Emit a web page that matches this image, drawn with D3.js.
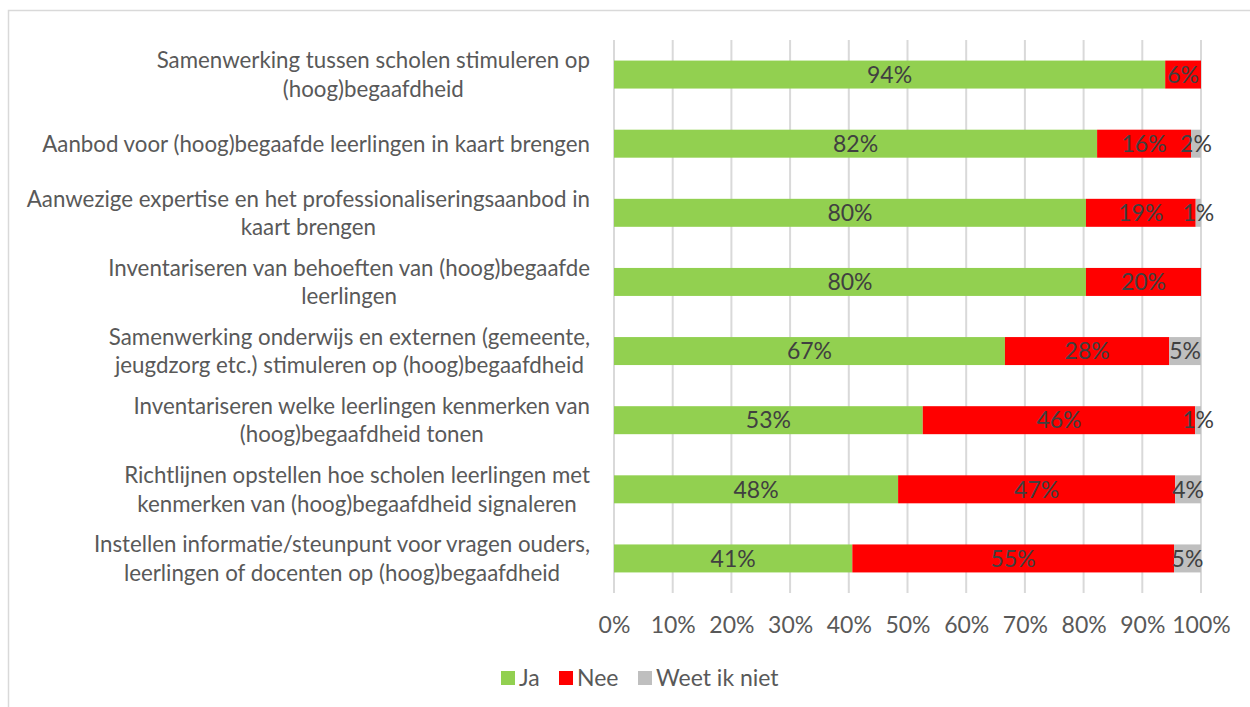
<!DOCTYPE html>
<html>
<head>
<meta charset="utf-8">
<script src="https://cdn.jsdelivr.net/npm/d3@7"></script>
<style>
  body { margin: 0; background: #fff; }
  text { font-family: Lato, Carlito, Calibri, sans-serif; }
</style>
</head>
<body>
<div id="chart"></div>
<script>
// categories (line breaks as in the picture)
var categories = [
  ['Samenwerking tussen scholen stimuleren op', '(hoog)begaafdheid'],
  ['Aanbod voor (hoog)begaafde leerlingen in kaart brengen'],
  ['Aanwezige expertise en het professionaliseringsaanbod in', 'kaart brengen'],
  ['Inventariseren van behoeften van (hoog)begaafde', 'leerlingen'],
  ['Samenwerking onderwijs en externen (gemeente,', 'jeugdzorg etc.) stimuleren op (hoog)begaafdheid'],
  ['Inventariseren welke leerlingen kenmerken van', '(hoog)begaafdheid tonen'],
  ['Richtlijnen opstellen hoe scholen leerlingen met', 'kenmerken van (hoog)begaafdheid signaleren'],
  ['Instellen informatie/steunpunt voor vragen ouders,', 'leerlingen of docenten op (hoog)begaafdheid']
];

// series values (percent)
var ja         = [93.9, 82.3, 80.4, 80.4, 66.6, 52.6, 48.4, 40.6];
var nee        = [ 6.1, 16.0, 18.7, 19.6, 28.0, 46.4, 47.2, 54.8];
var weetIkNiet = [ 0.0,  1.7,  0.9,  0.0,  5.4,  1.0,  4.4,  4.6];

var seriesNames = ['Ja', 'Nee', 'Weet ik niet'];
var seriesColors = ['#92d050', '#ff0000', '#bfbfbf'];
var ticks = [0, 10, 20, 30, 40, 50, 60, 70, 80, 90, 100];

var width = 1250, height = 707;
var plot = {left: 614, right: 1201, top: 40, bottom: 593};
var labelRight = 590;

var svg = d3.select('#chart')
  .append('svg')
    .attr('width', width)
    .attr('height', height);

// chart border
svg.append('rect')
  .attr('x', 8.5)
  .attr('y', 10.5)
  .attr('width', 1300)
  .attr('height', 800)
  .style('fill', 'none')
  .style('stroke', '#d9d9d9')
  .style('stroke-width', 1.5);

var x = d3.scaleLinear()
  .domain([0, 100])
  .range([plot.left, plot.right]);

var y = d3.scaleBand()
  .domain(d3.range(categories.length))
  .range([plot.top, plot.bottom])
  .paddingInner(0.595)
  .paddingOuter(0.2975);

// gridlines
svg.append('g')
  .selectAll('line')
  .data(ticks)
  .enter()
  .append('line')
    .attr('x1', function(d) { return x(d); })
    .attr('x2', function(d) { return x(d); })
    .attr('y1', plot.top)
    .attr('y2', plot.bottom)
    .style('stroke', '#d9d9d9')
    .style('stroke-width', 2);

// tick labels
var xAxis = d3.axisBottom(x)
  .tickValues(ticks)
  .tickSize(0)
  .tickPadding(0)
  .tickFormat(function(d) { return d + '%'; });

var axisG = svg.append('g')
  .attr('transform', 'translate(0,' + 617 + ')')
  .call(xAxis);
axisG.select('.domain').remove();
axisG.selectAll('text')
  .attr('dy', '0.71em')
  .style('font-size', '23px')
  .style('font-family', 'Lato, Carlito, Calibri, sans-serif')
  .style('fill', '#595959');

// stacked data
var rows = categories.map(function(c, i) {
  return {i: i, ja: ja[i], nee: nee[i], weet: weetIkNiet[i]};
});
var stack = d3.stack().keys(['ja', 'nee', 'weet']);
var layers = stack(rows);

var layerG = svg.selectAll('g.layer')
  .data(layers)
  .enter()
  .append('g')
    .attr('class', 'layer')
    .style('fill', function(d, k) { return seriesColors[k]; });

layerG.selectAll('rect')
  .data(function(d) { return d; })
  .enter()
  .append('rect')
    .attr('x', function(d) { return x(d[0]); })
    .attr('y', function(d) { return y(d.data.i); })
    .attr('width', function(d) { return x(d[1]) - x(d[0]); })
    .attr('height', y.bandwidth());

// value labels
layerG.selectAll('text')
  .data(function(d) { return d.filter(function(p) { return p[1] - p[0] > 0; }); })
  .enter()
  .append('text')
    .attr('x', function(d) { return (x(d[0]) + x(d[1])) / 2; })
    .attr('y', function(d) { return y(d.data.i) + y.bandwidth() / 2; })
    .attr('dy', '0.36em')
    .style('text-anchor', 'middle')
    .style('font-size', '23px')
    .style('fill', '#404040')
    .text(function(d) { return Math.round(d[1] - d[0]) + '%'; });

// category labels: block right-aligned, lines centered within the block
var lineH = 28.5;
var catG = svg.append('g')
  .selectAll('text')
  .data(categories)
  .enter()
  .append('text')
    .attr('y', function(d, i) { return y(i) + y.bandwidth() / 2; })
    .style('text-anchor', 'middle')
    .style('font-size', '22.3px')
    .style('fill', '#595959');

catG.selectAll('tspan')
  .data(function(d) {
    return d.map(function(t, j) { return {t: t, j: j, n: d.length}; });
  })
  .enter()
  .append('tspan')
    .attr('dy', function(d) {
      var off = (d.j === 0) ? -(d.n - 1) * lineH / 2 : lineH;
      return (d.j === 0 ? off + 8 : off) + 'px';
    })
    .text(function(d) { return d.t; });

catG.each(function() {
  var spans = d3.select(this).selectAll('tspan');
  var maxW = 0;
  spans.each(function() { maxW = Math.max(maxW, this.getComputedTextLength()); });
  spans.attr('x', labelRight - maxW / 2);
});

// legend
var legendX = [501, 559, 638];
var legend = svg.append('g')
  .selectAll('g')
  .data(seriesNames)
  .enter()
  .append('g')
    .attr('transform', function(d, k) { return 'translate(' + legendX[k] + ',671)'; });

legend.append('rect')
  .attr('width', 14)
  .attr('height', 14)
  .style('fill', function(d, k) { return seriesColors[k]; });

legend.append('text')
  .attr('x', 18)
  .attr('y', 7)
  .attr('dy', '0.36em')
  .style('font-size', '23px')
  .style('fill', '#595959')
  .text(function(d) { return d; });
</script>
</body>
</html>
